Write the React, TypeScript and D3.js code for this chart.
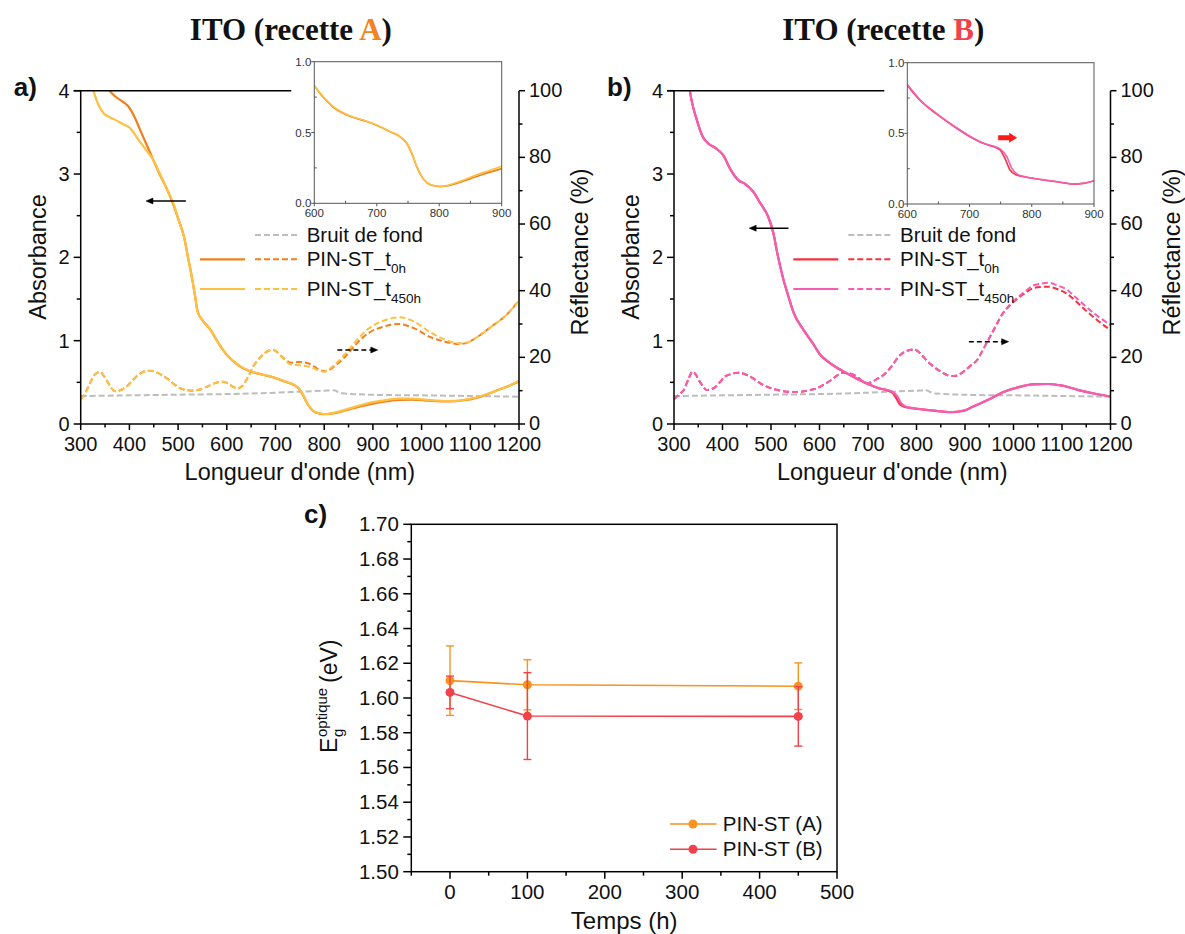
import React from 'react';
import * as d3 from 'd3';

type Pt = [number, number];

// ---------- Panel a (ITO recette A) ----------
const aAbsT0: Pt[] = [[350,4.08],[359,4.0],[371,3.93],[386,3.87],[398,3.81],[410,3.69],[422,3.53],[434,3.37],[449,3.17],[461,3.01],[473,2.87],[489,2.65],[501,2.45],[512,2.25],[520,2.01],[528,1.77],[535,1.53],[540,1.35],[552,1.23],[564,1.15],[583,0.97],[600,0.83],[614,0.75],[630,0.68],[646,0.636],[662,0.607],[684,0.577],[705,0.541],[721,0.506],[737,0.471],[748,0.424],[756,0.353],[764,0.259],[772,0.188],[780,0.146],[790,0.125],[801,0.118],[812,0.122],[828,0.14],[849,0.172],[870,0.205],[900,0.245],[930,0.275],[954,0.29],[980,0.292],[1001,0.285],[1030,0.275],[1048,0.272],[1070,0.275],[1087,0.285],[1110,0.31],[1127,0.34],[1158,0.41],[1180,0.46],[1200,0.51]];
const aAbsT450: Pt[] = [[318,4.15],[326,4.0],[335,3.85],[347,3.73],[360,3.68],[371,3.65],[386,3.6],[402,3.55],[414,3.45],[434,3.29],[449,3.17],[465,2.97],[481,2.77],[491,2.64],[501,2.45],[512,2.25],[520,2.01],[528,1.77],[535,1.53],[540,1.35],[552,1.23],[564,1.15],[583,0.97],[600,0.83],[614,0.755],[630,0.685],[646,0.64],[662,0.61],[684,0.579],[705,0.543],[721,0.508],[737,0.473],[748,0.428],[756,0.358],[764,0.263],[772,0.19],[780,0.148],[790,0.127],[801,0.12],[812,0.125],[828,0.147],[849,0.182],[870,0.217],[900,0.262],[930,0.29],[954,0.305],[980,0.305],[1001,0.295],[1030,0.28],[1048,0.276],[1070,0.278],[1087,0.29],[1110,0.315],[1127,0.345],[1158,0.41],[1180,0.46],[1200,0.52]];
const aRefT0: Pt[] = [[300,7.4],[310,9.5],[320,12.5],[330,15.0],[340,15.6],[347,14.5],[355,12.7],[362,11.0],[371,9.8],[382,10.2],[394,11.2],[406,13.0],[418,14.7],[428,15.6],[438,16.0],[447,15.9],[457,15.4],[470,14.4],[481,13.2],[493,11.8],[505,10.7],[516,10.2],[528,10.0],[540,10.2],[552,10.7],[564,11.5],[575,12.2],[591,12.7],[599,12.4],[607,11.7],[615,11.0],[623,10.7],[631,11.3],[638,12.7],[646,14.8],[654,17.2],[662,18.9],[670,20.2],[686,22.0],[696,22.2],[702,21.7],[717,19.7],[733,18.4],[749,18.6],[765,18.3],[780,17.2],[790,16.3],[800,15.8],[810,16.2],[820,17.2],[843,20.2],[867,24.2],[890,27.2],[922,29.2],[953,30.0],[985,28.7],[1016,26.2],[1048,24.7],[1080,24.0],[1095,24.5],[1111,25.8],[1143,29.2],[1174,32.7],[1198,36.7]];
const aRefT450: Pt[] = [[300,7.4],[310,9.5],[320,12.5],[330,15.0],[340,15.6],[347,14.5],[355,12.7],[362,11.0],[371,9.8],[382,10.2],[394,11.2],[406,13.0],[418,14.7],[428,15.6],[438,16.0],[447,15.9],[457,15.4],[470,14.4],[481,13.2],[493,11.8],[505,10.7],[516,10.2],[528,10.0],[540,10.2],[552,10.7],[564,11.5],[575,12.2],[591,12.7],[599,12.4],[607,11.7],[615,11.0],[623,10.7],[631,11.3],[638,12.7],[646,14.8],[654,17.2],[662,18.9],[670,20.2],[686,22.0],[696,22.2],[702,21.7],[717,19.5],[733,17.8],[749,17.6],[765,17.3],[780,16.6],[790,16.0],[800,15.7],[810,16.4],[820,17.6],[843,21.0],[867,25.2],[890,28.5],[922,31.0],[953,32.0],[985,30.7],[1016,27.7],[1048,25.3],[1080,24.2],[1095,24.5],[1111,25.8],[1143,29.2],[1174,32.7],[1198,36.7]];

// ---------- Panel b (ITO recette B) ----------
const bAbsT0: Pt[] = [[330,4.1],[336,3.89],[347,3.65],[359,3.45],[370,3.37],[386,3.31],[401,3.23],[417,3.05],[432,2.93],[447,2.88],[463,2.79],[478,2.65],[494,2.49],[505,2.29],[513,2.05],[524,1.77],[536,1.53],[547,1.33],[567,1.13],[586,0.97],[600,0.84],[620,0.736],[647,0.637],[674,0.552],[701,0.476],[722,0.429],[738,0.406],[749,0.382],[757,0.323],[765,0.241],[776,0.205],[792,0.189],[819,0.17],[840,0.158],[867,0.141],[883,0.146],[900,0.163],[917,0.21],[948,0.29],[978,0.38],[1009,0.44],[1040,0.475],[1071,0.48],[1101,0.46],[1132,0.41],[1171,0.36],[1200,0.33]];
const bAbsT450: Pt[] = [[330,4.1],[336,3.89],[347,3.65],[359,3.45],[370,3.37],[386,3.31],[401,3.23],[417,3.05],[432,2.93],[447,2.88],[463,2.79],[478,2.65],[494,2.49],[505,2.29],[513,2.05],[524,1.77],[536,1.53],[547,1.33],[567,1.13],[586,0.97],[600,0.845],[620,0.74],[647,0.64],[674,0.555],[701,0.478],[722,0.431],[738,0.41],[749,0.39],[760,0.335],[768,0.252],[778,0.208],[792,0.19],[819,0.171],[840,0.159],[867,0.142],[883,0.147],[900,0.165],[917,0.21],[948,0.29],[978,0.38],[1009,0.44],[1040,0.475],[1071,0.48],[1101,0.46],[1132,0.41],[1171,0.36],[1200,0.33]];
const bRefT0: Pt[] = [[300,7.4],[310,8.8],[320,10.2],[330,13.5],[338,15.7],[345,14.8],[351,13.2],[359,11.5],[367,10.2],[376,10.4],[386,11.2],[395,12.6],[405,14.2],[418,15.0],[432,15.4],[444,15.1],[455,14.4],[467,13.3],[478,12.2],[490,11.3],[501,10.7],[516,10.1],[532,9.7],[547,9.6],[563,9.7],[578,10.1],[594,10.7],[609,11.8],[624,13.2],[636,14.5],[648,15.4],[659,15.3],[671,14.7],[682,13.6],[694,12.4],[702,12.3],[709,12.7],[720,13.6],[732,14.7],[748,17.2],[763,20.2],[775,21.6],[786,22.2],[795,22.4],[801,22.0],[809,21.0],[817,19.7],[828,18.1],[840,16.7],[852,15.5],[863,14.7],[873,14.4],[882,14.5],[892,15.2],[901,16.2],[913,17.7],[925,19.2],[936,22.0],[948,25.2],[963,29.3],[978,33.2],[994,35.8],[1009,37.7],[1025,39.4],[1040,40.7],[1056,41.1],[1071,41.2],[1090,40.5],[1109,39.2],[1128,36.9],[1148,34.2],[1174,31.0],[1200,28.2]];
const bRefT450: Pt[] = [[300,7.4],[310,8.8],[320,10.2],[330,13.5],[338,15.7],[345,14.8],[351,13.2],[359,11.5],[367,10.2],[376,10.4],[386,11.2],[395,12.6],[405,14.2],[418,15.0],[432,15.4],[444,15.1],[455,14.4],[467,13.3],[478,12.2],[490,11.3],[501,10.7],[516,10.1],[532,9.7],[547,9.6],[563,9.7],[578,10.1],[594,10.7],[609,11.8],[624,13.2],[636,14.5],[648,15.4],[659,15.3],[671,14.7],[682,13.6],[694,12.4],[702,12.3],[709,12.7],[720,13.6],[732,14.7],[748,17.2],[763,20.2],[775,21.6],[786,22.2],[795,22.4],[801,22.0],[809,21.0],[817,19.7],[828,18.1],[840,16.7],[852,15.5],[863,14.7],[873,14.4],[882,14.5],[892,15.2],[901,16.2],[913,17.7],[925,19.2],[936,22.0],[948,25.2],[963,29.3],[978,33.2],[994,36.0],[1009,38.0],[1025,39.9],[1040,41.5],[1056,42.1],[1071,42.4],[1090,41.6],[1109,40.4],[1128,38.0],[1148,35.4],[1174,32.3],[1200,29.7]];

// background (shared)
const bruitDeFond: Pt[] = [[300,8.4],[400,8.6],[500,8.8],[607,9.0],[700,9.4],[749,9.7],[800,10.0],[820,10.1],[835,9.2],[922,8.7],[1000,8.6],[1100,8.4],[1198,8.2]];

// ---------- Panel c ----------
const temps = [0, 100, 450];
const egA = [1.610, 1.6076, 1.6068];
const errA = [0.020, 0.0144, 0.0134];
const egB = [1.6032, 1.5896, 1.5894];
const errB = [0.0094, 0.025, 0.0171];

// ticks
const absTicks = [0, 1, 2, 3, 4];
const absMinor = [0.5, 1.5, 2.5, 3.5];
const reflTicks = [0, 20, 40, 60, 80, 100];
const reflMinor = [10, 30, 50, 70, 90];
const wlTicks = [300, 400, 500, 600, 700, 800, 900, 1000, 1100, 1200];
const wlMinor = [350, 450, 550, 650, 750, 850, 950, 1050, 1150];
const insetXTicks = [600, 700, 800, 900];
const insetXMinor = [650, 750, 850];
const insetYTicks = [0, 0.5, 1.0];
const insetYMinor = [0.25, 0.75];
const timeTicks = [0, 100, 200, 300, 400, 500];
const timeMinor = [-50, 50, 150, 250, 350, 450];
const egTicks = [1.50, 1.52, 1.54, 1.56, 1.58, 1.60, 1.62, 1.64, 1.66, 1.68, 1.70];
const egMinor = [1.51, 1.53, 1.55, 1.57, 1.59, 1.61, 1.63, 1.65, 1.67, 1.69];

const SANS = '"Liberation Sans", Arial, sans-serif';
const SERIF = '"Liberation Serif", "Times New Roman", serif';

type Box = { left: number; right: number; top: number; bottom: number };

interface PanelProps {
  id: string;
  main: Box;
  inset: Box;
  letter: string;
  letterColor: string;
  panelLabel: string;
  colT0: string;
  colT450: string;
  absT0: Pt[];
  absT450: Pt[];
  refT0: Pt[];
  refT450: Pt[];
  arrowLeft: { nm0: number; nm1: number; a: number };
  arrowRight: { nm0: number; nm1: number; r: number };
  redArrow?: { nm: number; a: number };
}

function SpectraPanel(p: PanelProps) {
  const { main, inset } = p;
  const x = d3.scaleLinear().domain([300, 1200]).range([main.left, main.right]);
  const yA = d3.scaleLinear().domain([0, 4]).range([main.bottom, main.top]);
  const yR = d3.scaleLinear().domain([0, 100]).range([main.bottom, main.top]);
  const ix = d3.scaleLinear().domain([600, 900]).range([inset.left, inset.right]);
  const iy = d3.scaleLinear().domain([0, 1]).range([inset.bottom, inset.top]);
  const lA = d3.line<Pt>().x(d => x(d[0])).y(d => yA(d[1])).curve(d3.curveMonotoneX);
  const lR = d3.line<Pt>().x(d => x(d[0])).y(d => yR(d[1])).curve(d3.curveMonotoneX);
  const lI = d3.line<Pt>().x(d => ix(d[0])).y(d => iy(d[1])).curve(d3.curveMonotoneX);
  const inRange = (d: Pt[]) => d.filter(v => v[0] >= 600 && v[0] <= 900);
  const cx = (main.left + main.right) / 2;

  const legX = main.left + 119.3;
  const legDashX = main.left + 174.3;
  const legTextX = main.left + 226;
  const rows = [235, 259.3, 289];

  const al = p.arrowLeft;
  const ar = p.arrowRight;
  const alY = yA(al.a);
  const arY = yR(ar.r);

  return (
    <g>
      <defs>
        <clipPath id={`clip-${p.id}`}>
          <rect x={main.left} y={main.top} width={main.right - main.left} height={main.bottom - main.top} />
        </clipPath>
        <clipPath id={`clipi-${p.id}`}>
          <rect x={inset.left} y={inset.top} width={inset.right - inset.left} height={inset.bottom - inset.top} />
        </clipPath>
      </defs>
      <text x={cx - 9} y={39.5} textAnchor="middle" fontFamily={SERIF} fontWeight="bold" fontSize={31} fill="#111">
        ITO (recette <tspan fill={p.letterColor}>{p.letter}</tspan>)
      </text>
      <text x={main.left - 67} y={96} fontFamily={SANS} fontWeight="bold" fontSize={26} fill="#111">{p.panelLabel}</text>

      <g clipPath={`url(#clip-${p.id})`} fill="none">
        <path d={lR(bruitDeFond) || ''} stroke="#BDBDBD" strokeWidth={2} strokeDasharray="6,3" />
        <path d={lR(p.refT0) || ''} stroke={p.colT0} strokeWidth={2} strokeDasharray="6,3" />
        <path d={lR(p.refT450) || ''} stroke={p.colT450} strokeWidth={2} strokeDasharray="6,3" />
        <path d={lA(p.absT0) || ''} stroke={p.colT0} strokeWidth={2.2} />
        <path d={lA(p.absT450) || ''} stroke={p.colT450} strokeWidth={2.2} />
      </g>

      <g stroke="#000" strokeWidth={1.5}>
        <line x1={main.left} x2={main.left} y1={main.top} y2={main.bottom} />
        <line x1={main.right} x2={main.right} y1={main.top} y2={main.bottom} />
        <line x1={main.left} x2={main.right} y1={main.bottom} y2={main.bottom} />
        <line x1={main.left - 7} x2={inset.left - 23} y1={main.top} y2={main.top} />
        {absTicks.map(t => <line key={'a' + t} x1={main.left - 7} x2={main.left} y1={yA(t)} y2={yA(t)} />)}
        {absMinor.map(t => <line key={'am' + t} x1={main.left - 4} x2={main.left} y1={yA(t)} y2={yA(t)} />)}
        {reflTicks.map(t => <line key={'r' + t} x1={main.right} x2={main.right + 6} y1={yR(t)} y2={yR(t)} />)}
        {reflMinor.map(t => <line key={'rm' + t} x1={main.right} x2={main.right + 3.5} y1={yR(t)} y2={yR(t)} />)}
        {wlTicks.map(t => <line key={'w' + t} x1={x(t)} x2={x(t)} y1={main.bottom} y2={main.bottom + 6} />)}
        {wlMinor.map(t => <line key={'wm' + t} x1={x(t)} x2={x(t)} y1={main.bottom} y2={main.bottom + 3.5} />)}
      </g>
      <g fontFamily={SANS} fontSize={20} fill="#111">
        {absTicks.map(t => <text key={'at' + t} x={main.left - 11} y={yA(t) + 7} textAnchor="end">{t}</text>)}
        {reflTicks.map(t => <text key={'rt' + t} x={main.right + 10} y={yR(t) + 6} textAnchor="start">{t}</text>)}
        {wlTicks.map(t => <text key={'wt' + t} x={x(t)} y={main.bottom + 27} textAnchor="middle">{t}</text>)}
      </g>
      <g fontFamily={SANS} fontSize={23.5} fill="#111">
        <text x={cx} y={480} textAnchor="middle">Longueur d'onde (nm)</text>
        <text transform={`translate(${main.left - 35},257) rotate(-90)`} textAnchor="middle">Absorbance</text>
        <text transform={`translate(${main.right + 69},252) rotate(-90)`} textAnchor="middle">Réflectance (%)</text>
      </g>

      <g stroke="#000" strokeWidth={1.5} fill="#000">
        <line x1={x(al.nm0) + 5} x2={x(al.nm1)} y1={alY} y2={alY} />
        <polygon points={`${x(al.nm0)},${alY} ${x(al.nm0) + 7},${alY - 3} ${x(al.nm0) + 7},${alY + 3}`} strokeWidth={0.5} />
        <line x1={x(ar.nm0)} x2={x(ar.nm1) - 5} y1={arY} y2={arY} strokeDasharray="5,3" />
        <polygon points={`${x(ar.nm1)},${arY} ${x(ar.nm1) - 7},${arY - 3} ${x(ar.nm1) - 7},${arY + 3}`} strokeWidth={0.5} />
      </g>

      <g fontFamily={SANS} fontSize={20.5} fill="#111">
        <line x1={legDashX} x2={legDashX + 42} y1={rows[0]} y2={rows[0]} stroke="#BDBDBD" strokeWidth={2} strokeDasharray="6,3" />
        <text x={legTextX} y={rows[0] + 6.5}>Bruit de fond</text>
        <line x1={legX} x2={legX + 45} y1={rows[1]} y2={rows[1]} stroke={p.colT0} strokeWidth={2.2} />
        <line x1={legDashX} x2={legDashX + 42} y1={rows[1]} y2={rows[1]} stroke={p.colT0} strokeWidth={2} strokeDasharray="6,3" />
        <text x={legTextX} y={rows[1] + 6.5}>PIN-ST_t<tspan fontSize={13.5} dy={7.5}>0h</tspan></text>
        <line x1={legX} x2={legX + 45} y1={rows[2]} y2={rows[2]} stroke={p.colT450} strokeWidth={2.2} />
        <line x1={legDashX} x2={legDashX + 42} y1={rows[2]} y2={rows[2]} stroke={p.colT450} strokeWidth={2} strokeDasharray="6,3" />
        <text x={legTextX} y={rows[2] + 6.5}>PIN-ST_t<tspan fontSize={13.5} dy={7.5}>450h</tspan></text>
      </g>

      <rect x={inset.left} y={inset.top} width={inset.right - inset.left} height={inset.bottom - inset.top} fill="#fff" />
      <g clipPath={`url(#clipi-${p.id})`} fill="none">
        <path d={lI(inRange(p.absT0)) || ''} stroke={p.colT0} strokeWidth={1.6} />
        <path d={lI(inRange(p.absT450)) || ''} stroke={p.colT450} strokeWidth={1.6} />
      </g>
      <rect x={inset.left} y={inset.top} width={inset.right - inset.left} height={inset.bottom - inset.top} fill="none" stroke="#555" strokeWidth={1} />
      <g stroke="#555" strokeWidth={1}>
        {insetYTicks.map(t => <line key={'iy' + t} x1={inset.left - 3} x2={inset.left} y1={iy(t)} y2={iy(t)} />)}
        {insetYMinor.map(t => <line key={'iym' + t} x1={inset.left} x2={inset.left + 2.5} y1={iy(t)} y2={iy(t)} />)}
        {insetXTicks.map(t => <line key={'ix' + t} x1={ix(t)} x2={ix(t)} y1={inset.bottom} y2={inset.bottom + 3} />)}
        {insetXMinor.map(t => <line key={'ixm' + t} x1={ix(t)} x2={ix(t)} y1={inset.bottom} y2={inset.bottom - 2.5} />)}
      </g>
      <g fontFamily={SANS} fontSize={11.5} fill="#333">
        {insetYTicks.map(t => <text key={'iyt' + t} x={inset.left - 3} y={iy(t) + 4} textAnchor="end">{t.toFixed(1)}</text>)}
        {insetXTicks.map(t => <text key={'ixt' + t} x={ix(t)} y={inset.bottom + 14} textAnchor="middle">{t}</text>)}
      </g>
      {p.redArrow && (() => {
        const ax = ix(p.redArrow.nm);
        const ay = iy(p.redArrow.a);
        return (
          <polygon fill="#FF1A1A"
            points={`${ax},${ay - 2.5} ${ax + 11},${ay - 2.5} ${ax + 11},${ay - 5} ${ax + 19},${ay} ${ax + 11},${ay + 5} ${ax + 11},${ay + 2.5} ${ax},${ay + 2.5}`} />
        );
      })()}
    </g>
  );
}

function BandGapPanel() {
  const L = 411.3, R = 837, T = 524.3, B = 871.7;
  const x = d3.scaleLinear().domain([-50, 500]).range([L, R]);
  const y = d3.scaleLinear().domain([1.5, 1.7]).range([B, T]);
  const colA = '#F7931E';
  const colB = '#F2414A';
  const mk = (vals: number[]) => d3.line<number>().x((_, i) => x(temps[i])).y(d => y(d))(vals) || '';
  const series = [
    { vals: egA, errs: errA, col: colA, path: mk(egA) },
    { vals: egB, errs: errB, col: colB, path: mk(egB) },
  ];
  return (
    <g>
      <text x={304} y={523} fontFamily={SANS} fontWeight="bold" fontSize={26} fill="#111">c)</text>
      <rect x={L} y={T} width={R - L} height={B - T} fill="none" stroke="#000" strokeWidth={1.5} />
      <g stroke="#000" strokeWidth={1.5}>
        {egTicks.map(t => <line key={'e' + t} x1={L - 8} x2={L} y1={y(t)} y2={y(t)} />)}
        {egMinor.map(t => <line key={'em' + t} x1={L - 4} x2={L} y1={y(t)} y2={y(t)} />)}
        {timeTicks.map(t => <line key={'t' + t} x1={x(t)} x2={x(t)} y1={B} y2={B + 7} />)}
        {timeMinor.map(t => <line key={'tm' + t} x1={x(t)} x2={x(t)} y1={B} y2={B + 4} />)}
      </g>
      <g fontFamily={SANS} fontSize={20.5} fill="#111">
        {egTicks.map(t => <text key={'et' + t} x={L - 12.5} y={y(t) + 7} textAnchor="end">{t.toFixed(2)}</text>)}
        {timeTicks.map(t => <text key={'tt' + t} x={x(t)} y={B + 27.5} textAnchor="middle">{t}</text>)}
      </g>
      <text x={(L + R) / 2} y={929} textAnchor="middle" fontFamily={SANS} fontSize={24} fill="#111">Temps (h)</text>
      <g transform="translate(337,753) rotate(-90)" fontFamily={SANS} fill="#111">
        <text x={0} y={0} fontSize={23}>E</text>
        <text x={16} y={6} fontSize={15}>g</text>
        <text x={16} y={-10} fontSize={15}>optique</text>
        <text x={70} y={0} fontSize={23}>(eV)</text>
      </g>
      {series.map((s, si) => (
        <g key={si}>
          <path d={s.path} fill="none" stroke={s.col} strokeWidth={1.6} />
          {s.vals.map((v, i) => {
            const px = x(temps[i]);
            return (
              <g key={i} stroke={s.col} strokeWidth={1.4}>
                <line x1={px} x2={px} y1={y(v - s.errs[i])} y2={y(v + s.errs[i])} />
                <line x1={px - 4} x2={px + 4} y1={y(v - s.errs[i])} y2={y(v - s.errs[i])} />
                <line x1={px - 4} x2={px + 4} y1={y(v + s.errs[i])} y2={y(v + s.errs[i])} />
              </g>
            );
          })}
          {s.vals.map((v, i) => <circle key={'c' + i} cx={x(temps[i])} cy={y(v)} r={4.5} fill={s.col} />)}
        </g>
      ))}
      <g fontFamily={SANS} fontSize={20.5} fill="#111">
        <line x1={670} x2={716.6} y1={824} y2={824} stroke={colA} strokeWidth={1.6} />
        <circle cx={693} cy={824} r={4.5} fill={colA} />
        <text x={722.8} y={831}>PIN-ST (A)</text>
        <line x1={670} x2={716.6} y1={849.3} y2={849.3} stroke={colB} strokeWidth={1.6} />
        <circle cx={693} cy={849.3} r={4.5} fill={colB} />
        <text x={722.8} y={856.3}>PIN-ST (B)</text>
      </g>
    </g>
  );
}

export default function App() {
  return (
    <svg width={1185} height={934} style={{ position: 'absolute', left: 0, top: 0, background: '#fff' }}>
      <rect x={0} y={0} width={1185} height={934} fill="#fff" />
      <SpectraPanel
        id="a"
        main={{ left: 80.7, right: 519, top: 90.7, bottom: 424 }}
        inset={{ left: 314.3, right: 501.7, top: 61.7, bottom: 203.3 }}
        letter="A" letterColor="#F58220" panelLabel="a)"
        colT0="#F27F1B" colT450="#FDC040"
        absT0={aAbsT0} absT450={aAbsT450} refT0={aRefT0} refT450={aRefT450}
        arrowLeft={{ nm0: 434, nm1: 516, a: 2.676 }}
        arrowRight={{ nm0: 827, nm1: 910, r: 22.2 }}
      />
      <SpectraPanel
        id="b"
        main={{ left: 674, right: 1110.5, top: 90.7, bottom: 424 }}
        inset={{ left: 907.3, right: 1094, top: 62.7, bottom: 204 }}
        letter="B" letterColor="#F2414A" panelLabel="b)"
        colT0="#F5333F" colT450="#F45DB4"
        absT0={bAbsT0} absT450={bAbsT450} refT0={bRefT0} refT450={bRefT450}
        arrowLeft={{ nm0: 455, nm1: 536, a: 2.35 }}
        arrowRight={{ nm0: 908, nm1: 990, r: 24.7 }}
        redArrow={{ nm: 746, a: 0.469 }}
      />
      <BandGapPanel />
    </svg>
  );
}
